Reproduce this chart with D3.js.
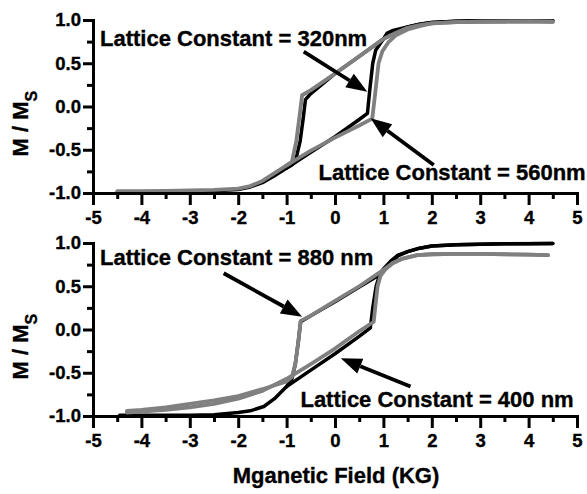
<!DOCTYPE html>
<html>
<head>
<meta charset="utf-8">
<script src="https://cdn.jsdelivr.net/npm/d3@7"></script>
<style>
  body { margin: 0; background: #fff; }
  svg { display: block; font-family: Arial, "Liberation Sans", sans-serif; font-weight: bold; }
  svg text { stroke: #000; stroke-width: 0.35px; }
</style>
</head>
<body>
<div id="vis-container"></div>
<script>
// tick values
const fieldTicks = [-5, -4, -3, -2, -1, 0, 1, 2, 3, 4, 5]
const fieldMinor = [-4.5, -3.5, -2.5, -1.5, -0.5, 0.5, 1.5, 2.5, 3.5, 4.5]
const mTicks = [-1, -0.5, 0, 0.5, 1]
const mMinor = [-0.75, -0.25, 0.25, 0.75]

// top panel, lattice constant 320nm (black)
const lc320Up = [[-4.5,-0.99],[-4,-0.99],[-3.5,-0.985],[-3,-0.98],[-2.5,-0.975],[-2,-0.96],[-1.75,-0.93],[-1.5,-0.88],[-1.25,-0.8],[-1,-0.71],[-0.5,-0.53],[0,-0.35],[0.5,-0.15],[0.67,-0.08],[0.72,0.2],[0.78,0.5],[0.84,0.65],[1,0.78],[1.08,0.85],[1.2,0.88],[1.5,0.92],[1.75,0.95],[2,0.97],[2.5,0.985],[3,0.99],[3.5,0.99],[4,0.99],[4.5,0.99]]
const lc320Down = [[4.5,0.99],[3.5,0.99],[3,0.99],[2.5,0.985],[2,0.97],[1.75,0.95],[1.5,0.92],[1.25,0.86],[1,0.78],[0.5,0.58],[0,0.38],[-0.5,0.15],[-0.61,0.08],[-0.66,-0.15],[-0.72,-0.4],[-0.82,-0.64],[-0.9,-0.68],[-1,-0.71]]

// top panel, lattice constant 560nm (grey)
const lc560Up = [[-4.5,-0.98],[-4,-0.98],[-3.5,-0.975],[-3,-0.97],[-2.5,-0.965],[-2,-0.95],[-1.75,-0.92],[-1.5,-0.86],[-1.25,-0.77],[-1,-0.68],[-0.5,-0.51],[0,-0.36],[0.5,-0.22],[0.77,-0.14],[0.83,0.15],[0.9,0.5],[0.98,0.64],[1.1,0.74],[1.25,0.82],[1.5,0.89],[1.75,0.93],[2,0.96],[2.5,0.975],[3,0.98],[3.5,0.98],[4,0.985],[4.5,0.98]]
const lc560Down = [[4.5,0.98],[4,0.985],[3,0.98],[2.5,0.975],[2,0.96],[1.75,0.94],[1.5,0.91],[1.25,0.85],[1,0.78],[0.5,0.58],[0,0.38],[-0.5,0.19],[-0.68,0.13],[-0.73,-0.1],[-0.8,-0.4],[-0.89,-0.64],[-1,-0.68]]

// bottom panel, lattice constant 400 nm (black)
const lc400Up = [[-4.45,-0.99],[-4,-0.99],[-3.5,-0.99],[-3,-0.99],[-2.5,-0.985],[-2,-0.96],[-1.75,-0.94],[-1.47,-0.89],[-1.25,-0.8],[-1,-0.66],[-0.5,-0.47],[0,-0.28],[0.5,-0.08],[0.73,0.02],[0.78,0.25],[0.85,0.5],[0.91,0.61],[1,0.7],[1.15,0.79],[1.3,0.86],[1.5,0.9],[1.75,0.94],[2,0.965],[2.5,0.98],[3,0.985],[3.5,0.99],[4,0.99],[4.5,0.995]]
const lc400Down = [[4.5,0.995],[3.5,0.99],[3,0.985],[2.5,0.98],[2,0.965],[1.75,0.94],[1.5,0.9],[1.3,0.85],[1.1,0.74],[0.94,0.64],[0.5,0.49],[0,0.32],[-0.5,0.16],[-0.71,0.09],[-0.76,-0.15],[-0.82,-0.4],[-0.89,-0.57],[-1,-0.66]]

// bottom panel, lattice constant 880 nm (grey)
const lc880Up = [[-4.3,-0.96],[-4,-0.95],[-3.5,-0.93],[-3,-0.9],[-2.5,-0.86],[-2,-0.8],[-1.5,-0.71],[-1,-0.57],[-0.5,-0.4],[0,-0.22],[0.5,-0.02],[0.8,0.09],[0.84,0.3],[0.88,0.5],[0.94,0.62],[1.05,0.7],[1.2,0.77],[1.4,0.82],[1.7,0.86],[2,0.87],[2.5,0.875],[3,0.875],[3.5,0.87],[4,0.865],[4.4,0.86]]
const lc880Down = [[4.4,0.86],[4,0.865],[3,0.875],[2.5,0.875],[2,0.87],[1.7,0.86],[1.4,0.82],[1.2,0.77],[1,0.69],[0.5,0.5],[0,0.33],[-0.5,0.16],[-0.71,0.1],[-0.76,-0.15],[-0.82,-0.4],[-0.89,-0.55],[-1,-0.6],[-1.5,-0.69],[-2,-0.77],[-2.5,-0.82],[-3,-0.86],[-3.5,-0.9],[-4,-0.93],[-4.3,-0.94]]

// annotations: label anchor and arrow tail/tip, in data units
const topNotes = [
  { text: 'Lattice Constant = 320nm', at: [-4.855, 0.699], from: [-0.646, 0.634], to: [0.667, 0.171] },
  { text: 'Lattice Constant = 560nm', at: [-0.34, -0.85], from: [2.04, -0.676], to: [0.735, -0.136] }
]
const bottomNotes = [
  { text: 'Lattice Constant = 880 nm', at: [-4.855, 0.746], from: [-2.30, 0.65], to: [-0.68, 0.148] },
  { text: 'Lattice Constant = 400 nm', at: [-0.714, -0.896], from: [1.56, -0.66], to: [0.12, -0.333] }
]

const width = 587, height = 494
const svg = d3.select('#vis-container').append('svg')
  .attr('width', width)
  .attr('height', height)

const x = d3.scaleLinear().domain([-5, 5]).range([93, 577])
const yTop = d3.scaleLinear().domain([-1, 1]).range([193, 20])
const yBottom = d3.scaleLinear().domain([-1, 1]).range([416, 243])

function styleAxis(g, w) {
  g.selectAll('path, line').attr('stroke', '#000').attr('stroke-width', w)
  g.select('.domain').attr('stroke-linecap', 'square')
  g.selectAll('text').attr('fill', '#000').style('font-size', '18.5px').style('font-weight', 'bold')
    .style('font-family', 'Arial, "Liberation Sans", sans-serif')
}

function drawPanel(y, black, grey, notes) {
  const g = svg.append('g')
  const line = d3.line().x(d => x(d[0])).y(d => y(d[1]))

  // curves
  black.forEach(function(branch) {
    g.append('path').attr('d', line(branch))
      .attr('fill', 'none').attr('stroke', '#000').attr('stroke-width', 3.5)
      .attr('stroke-linejoin', 'round').attr('stroke-linecap', 'round')
  })
  grey.forEach(function(branch) {
    g.append('path').attr('d', line(branch))
      .attr('fill', 'none').attr('stroke', '#808080').attr('stroke-width', 3.8)
      .attr('stroke-linejoin', 'round').attr('stroke-linecap', 'round')
  })

  // minor ticks
  g.append('g').attr('transform', 'translate(0,' + y(-1) + ')')
    .call(d3.axisBottom(x).tickValues(fieldMinor).tickSize(6).tickSizeOuter(0).tickFormat(''))
    .call(a => { styleAxis(a, 3); a.select('.domain').remove() })
  g.append('g').attr('transform', 'translate(' + x(-5) + ',0)')
    .call(d3.axisLeft(y).tickValues(mMinor).tickSize(6).tickSizeOuter(0).tickFormat(''))
    .call(a => { styleAxis(a, 3); a.select('.domain').remove() })

  // major axes
  g.append('g').attr('transform', 'translate(0,' + y(-1) + ')')
    .call(d3.axisBottom(x).tickValues(fieldTicks).tickSize(12).tickSizeOuter(0).tickPadding(6)
      .tickFormat(d => String(d)))
    .call(a => styleAxis(a, 3))
  g.append('g').attr('transform', 'translate(' + x(-5) + ',0)')
    .call(d3.axisLeft(y).tickValues(mTicks).tickSize(10).tickSizeOuter(0).tickPadding(2)
      .tickFormat(d => d.toFixed(1)))
    .call(a => styleAxis(a, 3))

  // y label
  const lab = g.append('text')
    .attr('transform', 'translate(28,' + (y(0) + 50) + ') rotate(-90)')
    .style('font-size', '22px')
  lab.append('tspan').text('M / M')
  lab.append('tspan').text('S').attr('dy', 9).style('font-size', '16px')

  // annotations
  notes.forEach(function(n) {
    g.append('text')
      .attr('x', x(n.at[0])).attr('y', y(n.at[1]))
      .style('font-size', '22px')
      .text(n.text)

    const x0 = x(n.from[0]), y0 = y(n.from[1])
    const x1 = x(n.to[0]), y1 = y(n.to[1])
    const ang = Math.atan2(y1 - y0, x1 - x0)
    const len = 21, half = 8
    const bx = x1 - len * Math.cos(ang), by = y1 - len * Math.sin(ang)
    g.append('line')
      .attr('x1', x0).attr('y1', y0).attr('x2', bx).attr('y2', by)
      .attr('stroke', '#000').attr('stroke-width', 3.8)
    g.append('path')
      .attr('d', 'M' + x1 + ',' + y1 +
        'L' + (bx + half * Math.sin(ang)) + ',' + (by - half * Math.cos(ang)) +
        'L' + (bx - half * Math.sin(ang)) + ',' + (by + half * Math.cos(ang)) + 'Z')
      .attr('fill', '#000')
  })
}

drawPanel(yTop, [lc320Up, lc320Down], [lc560Up, lc560Down], topNotes)
drawPanel(yBottom, [lc400Up, lc400Down], [lc880Up, lc880Down], bottomNotes)

svg.append('text')
  .attr('x', 336).attr('y', 483)
  .attr('text-anchor', 'middle')
  .style('font-size', '22px')
  .text('Mganetic Field (KG)')
</script>
</body>
</html>
